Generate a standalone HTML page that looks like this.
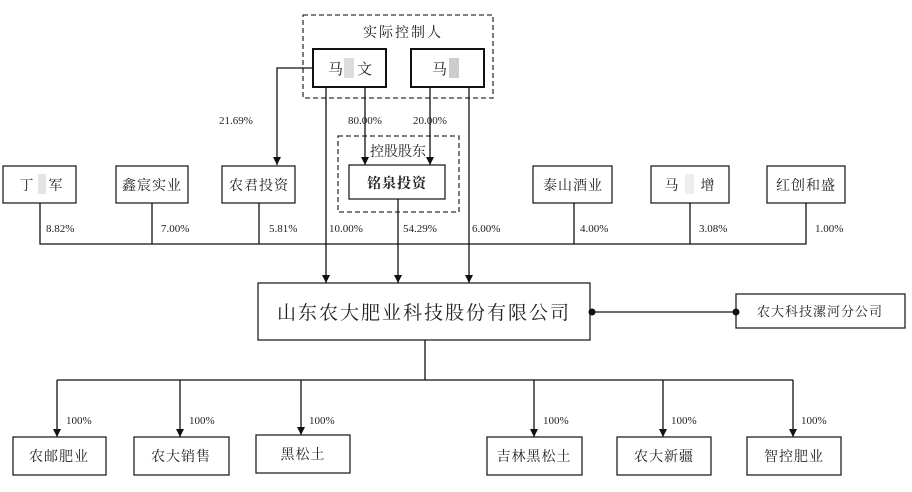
<!DOCTYPE html>
<html><head><meta charset="utf-8"><style>
body{margin:0;background:#fff;}
svg text{font-family:"Liberation Serif","Noto Serif CJK SC","Noto Sans CJK SC",serif;fill:#222;}
</style></head><body>
<svg width="912" height="487" viewBox="0 0 912 487" xmlns="http://www.w3.org/2000/svg">
<defs><marker id="a" markerWidth="8" markerHeight="8" refX="8" refY="4" orient="auto" markerUnits="userSpaceOnUse"><path d="M0,0 L8,4 L0,8 z" fill="#111"/></marker></defs>
<g fill="none" stroke="#334" stroke-width="1.3" stroke-dasharray="5,3">
<rect x="303" y="15" width="190" height="83"/>
<rect x="338" y="136" width="121" height="76"/>
</g>
<text x="403" y="37" font-size="14" text-anchor="middle" letter-spacing="2">实际控制人</text>
<text x="398" y="156" font-size="14" text-anchor="middle">控股股东</text>
<g fill="#fff" stroke="#111" stroke-width="2">
<rect x="313" y="49" width="73" height="38"/>
<rect x="411" y="49" width="73" height="38"/>
</g>
<rect x="344" y="58" width="10" height="20" fill="#ddd"/>
<rect x="449" y="58" width="10" height="20" fill="#ccc"/>
<text x="328" y="74" font-size="15">马</text><text x="357" y="74" font-size="15">文</text>
<text x="432" y="74" font-size="15">马</text>
<g fill="#fff" stroke="#222" stroke-width="1.3">
<rect x="349" y="165" width="96" height="34"/>
<rect x="3" y="166" width="73" height="37"/>
<rect x="116" y="166" width="72" height="37"/>
<rect x="222" y="166" width="73" height="37"/>
<rect x="533" y="166" width="79" height="37"/>
<rect x="651" y="166" width="78" height="37"/>
<rect x="767" y="166" width="78" height="37"/>
<rect x="258" y="283" width="332" height="57"/>
<rect x="736" y="294" width="169" height="34"/>
<rect x="13" y="437" width="93" height="38"/>
<rect x="134" y="437" width="95" height="38"/>
<rect x="256" y="435" width="94" height="38"/>
<rect x="487" y="437" width="95" height="38"/>
<rect x="617" y="437" width="94" height="38"/>
<rect x="747" y="437" width="94" height="38"/>
</g>
<rect x="38" y="174" width="8" height="20" fill="#e4e4e4"/>
<rect x="685" y="174" width="9" height="20" fill="#eee"/>
<g font-size="14" text-anchor="middle" letter-spacing="1">
<text x="397" y="188" font-weight="bold">铭泉投资</text>
<text x="27" y="190">丁</text><text x="56" y="190">军</text>
<text x="152" y="190">鑫宸实业</text>
<text x="259" y="190">农君投资</text>
<text x="573" y="190">泰山酒业</text>
<text x="672" y="190">马</text><text x="708" y="190">增</text>
<text x="806" y="190">红创和盛</text>
<text x="424" y="319" font-size="19" letter-spacing="2">山东农大肥业科技股份有限公司</text>
<text x="820" y="316" font-size="13">农大科技漯河分公司</text>
<text x="59" y="461">农邮肥业</text>
<text x="181" y="461">农大销售</text>
<text x="303" y="459">黑松土</text>
<text x="534" y="461">吉林黑松土</text>
<text x="664" y="461">农大新疆</text>
<text x="794" y="461">智控肥业</text>
</g>
<g stroke="#111" stroke-width="1.3" fill="none">
<path d="M313 68 H277 V165" marker-end="url(#a)"/>
<path d="M365 87 V165" marker-end="url(#a)"/>
<path d="M430 87 V165" marker-end="url(#a)"/>
<path d="M326 87 V283" marker-end="url(#a)"/>
<path d="M469 87 V283" marker-end="url(#a)"/>
<path d="M398 199 V283" marker-end="url(#a)"/>
<path d="M40 203 V244 H806 V203"/>
<path d="M152 203 V244 M259 203 V244 M574 203 V244 M690 203 V244"/>
<path d="M590 312 H736"/>
<path d="M425 340 V380 M57 380 H793"/>
<path d="M57 380 V437" marker-end="url(#a)"/>
<path d="M180 380 V437" marker-end="url(#a)"/>
<path d="M301 380 V435" marker-end="url(#a)"/>
<path d="M534 380 V437" marker-end="url(#a)"/>
<path d="M663 380 V437" marker-end="url(#a)"/>
<path d="M793 380 V437" marker-end="url(#a)"/>
</g>
<circle cx="592" cy="312" r="3.5" fill="#111"/><circle cx="736" cy="312" r="3.5" fill="#111"/>
<g font-size="11">
<text x="219" y="124">21.69%</text>
<text x="348" y="124">80.00%</text>
<text x="413" y="124">20.00%</text>
<text x="46" y="232">8.82%</text>
<text x="161" y="232">7.00%</text>
<text x="269" y="232">5.81%</text>
<text x="329" y="232">10.00%</text>
<text x="403" y="232">54.29%</text>
<text x="472" y="232">6.00%</text>
<text x="580" y="232">4.00%</text>
<text x="699" y="232">3.08%</text>
<text x="815" y="232">1.00%</text>
<text x="66" y="424">100%</text>
<text x="189" y="424">100%</text>
<text x="309" y="424">100%</text>
<text x="543" y="424">100%</text>
<text x="671" y="424">100%</text>
<text x="801" y="424">100%</text>
</g>
</svg>
</body></html>
